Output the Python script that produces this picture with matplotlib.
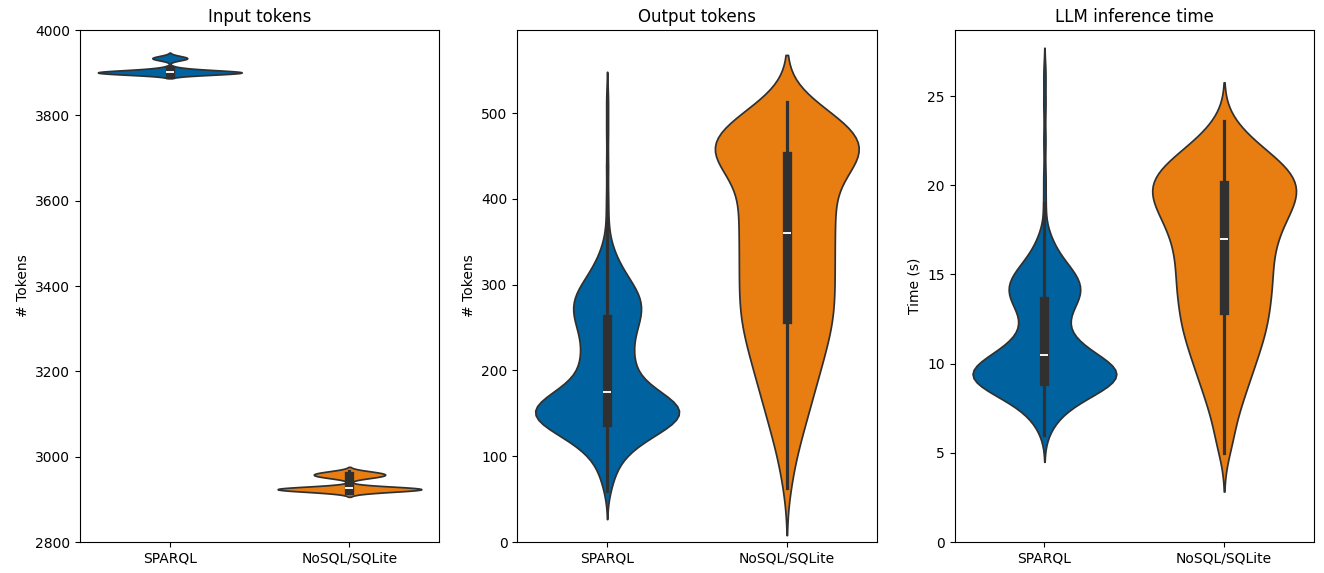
import numpy as np
import pandas as pd
import matplotlib
matplotlib.use("Agg")
import matplotlib.pyplot as plt
import seaborn as sns

langs = ["SPARQL", "NoSQL/SQLite"]
colors = ["#0063a0", "#e87d12"]

# values, with how many questions sit at each value

# input tokens
in_sparql_vals = [3895, 3898, 3900, 3902, 3904, 3906, 3909, 3912, 3930, 3933, 3936, 3939]
in_sparql_counts = [40, 60, 70, 60, 40, 25, 15, 10, 15, 25, 20, 10]
in_nosql_vals = [2916, 2919, 2922, 2924, 2926, 2928, 2931, 2950, 2954, 2958, 2962, 2966]
in_nosql_counts = [20, 35, 60, 70, 60, 30, 10, 25, 40, 45, 40, 20]

# output tokens
out_sparql_vals = [60, 70, 80, 90, 100, 110, 120, 130, 140, 150, 160, 170,
                   180, 190, 200, 210, 220, 230, 240, 250,
                   260, 270, 280, 290, 300, 310, 320, 330, 340, 350,
                   370, 400, 440, 480, 515]
out_sparql_counts = [1, 2, 2, 3, 5, 7, 11, 17, 23, 26, 25, 18,
                     12, 9, 8, 8, 8, 7, 8, 9,
                     10, 11, 11, 10, 8, 6, 4, 3, 2, 1,
                     1, 1, 1, 1, 1]
out_nosql_vals = [63, 80, 100, 120, 140, 160, 180, 200, 220, 240, 260, 280, 300, 320,
                  340, 360, 380, 400, 425, 450, 470, 490, 505, 513]
out_nosql_counts = [1, 1, 2, 3, 4, 5, 6, 7, 8, 9, 10, 10, 10, 10,
                    10, 10, 10, 11, 13, 21, 18, 12, 5, 2]

# LLM inference time (s)
time_sparql_vals = [6, 6.5, 7, 7.5, 8, 8.5, 9, 9.5, 10, 10.5, 11, 11.5, 12, 12.5, 13,
                    13.5, 14, 14.5, 15, 15.5, 16, 16.5, 17, 17.5,
                    19, 20.5, 22.5, 24.5, 26.2]
time_sparql_counts = [1, 2, 4, 6, 10, 17, 22, 24, 20, 14, 10, 7, 6, 6, 7,
                      10, 11, 11, 9, 7, 4, 3, 2, 1,
                      1, 1, 1, 1, 1]
time_nosql_vals = [5, 5.5, 6, 7, 8, 9, 10, 11, 12, 13, 14, 15, 16, 17, 18, 19, 20, 21, 22, 23, 23.6]
time_nosql_counts = [1, 1, 2, 3, 5, 6, 8, 9, 11, 11, 12, 12, 12, 13, 15, 18, 20, 17, 10, 4, 1]


def long_df(sparql_vals, sparql_counts, nosql_vals, nosql_counts):
    rows = []
    for lang, vals, counts in [(langs[0], sparql_vals, sparql_counts),
                               (langs[1], nosql_vals, nosql_counts)]:
        for v, c in zip(vals, counts):
            rows += [(lang, v)] * c
    return pd.DataFrame(rows, columns=["lang", "value"])


panels = [
    ("Input tokens", "# Tokens", (2800, 4000),
     long_df(in_sparql_vals, in_sparql_counts, in_nosql_vals, in_nosql_counts), 1.0),
    ("Output tokens", "# Tokens", (0, 597),
     long_df(out_sparql_vals, out_sparql_counts, out_nosql_vals, out_nosql_counts), 0.7),
    ("LLM inference time", "Time (s)", (0, 28.7),
     long_df(time_sparql_vals, time_sparql_counts, time_nosql_vals, time_nosql_counts), 0.7),
]

fig, axes = plt.subplots(1, 3, figsize=(13.24, 5.73), dpi=100)
fig.subplots_adjust(left=0.0604, right=0.9924, bottom=0.0541, top=0.9476, wspace=0.217)

for ax, (title, ylabel, ylim, df, bw) in zip(axes, panels):
    sns.violinplot(data=df, x="lang", y="value", hue="lang", palette=colors,
                   saturation=1, legend=False, inner="box", bw_adjust=bw,
                   density_norm="width", inner_kws=dict(box_width=6.7, whis_width=2.3),
                   ax=ax)
    ax.set_title(title)
    ax.set_ylabel(ylabel)
    ax.set_xlabel("")
    ax.set_ylim(*ylim)

fig.savefig("out.png", dpi=100)
